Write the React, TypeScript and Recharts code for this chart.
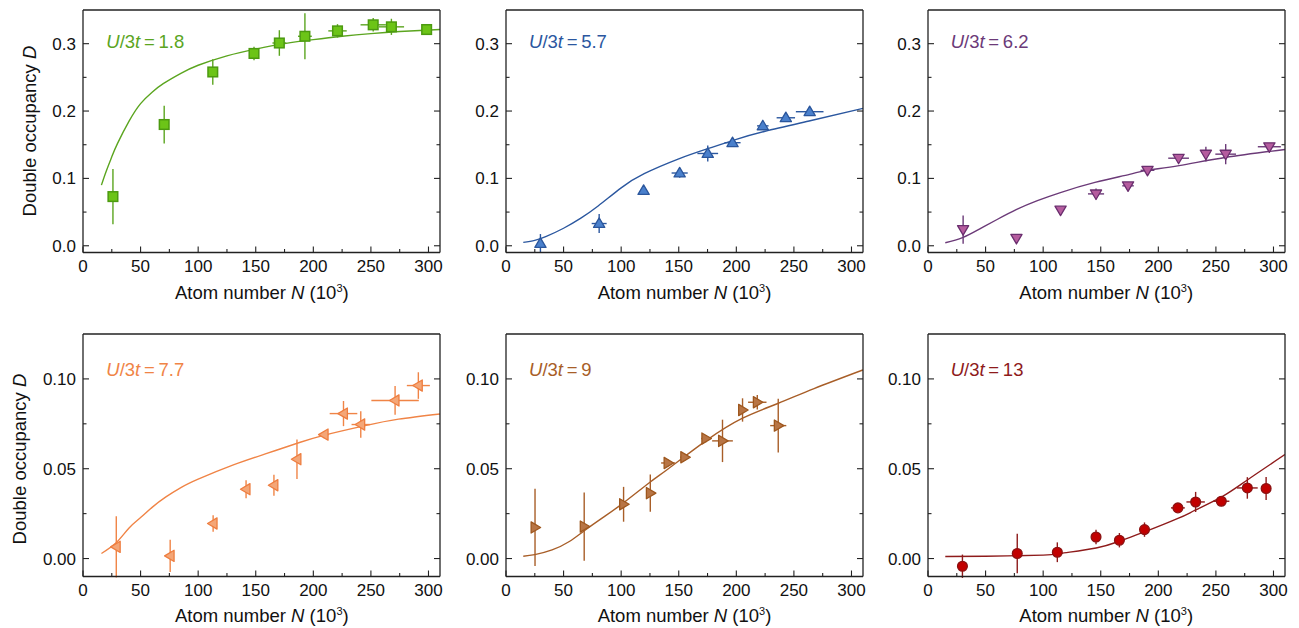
import React from 'react';
import { ComposedChart, Scatter, Line, XAxis, YAxis, ErrorBar } from 'recharts';

const FONT = '"Liberation Sans", Arial, Helvetica, sans-serif';

// x ticks (10^3 atoms)
const xTicks = [0, 25, 50, 75, 100, 125, 150, 175, 200, 225, 250, 275, 300];
const xMajor = [0, 50, 100, 150, 200, 250, 300];
// y ticks, top row / bottom row
const yTicksTop = [0, 0.05, 0.1, 0.15, 0.2, 0.25, 0.3];
const yMajorTop = [0, 0.1, 0.2, 0.3];
const yTicksBot = [0, 0.025, 0.05, 0.075, 0.1];
const yMajorBot = [0, 0.05, 0.1];

// U/3t = 1.8
const n18 = [26, 70.5, 112.7, 148.5, 170.5, 192.7, 221, 252, 267.8, 298.4];
const d18 = [0.073, 0.18, 0.258, 0.2855, 0.301, 0.311, 0.319, 0.328, 0.325, 0.321];
const dErr18 = [0.041, 0.028, 0.019, 0.01, 0.019, 0.034, 0.01, 0.01, 0.012, 0.008];
const nErr18 = [0, 0, 0, 0, 6, 6, 8, 11, 11, 0];
const fitN18 = [16, 20, 25, 30, 40, 50, 60, 70, 85, 100, 125, 150, 175, 200, 225, 250, 275, 310];
const fitD18 = [0.09, 0.11, 0.132, 0.152, 0.185, 0.211, 0.228, 0.241, 0.256, 0.268, 0.282, 0.292, 0.3, 0.306, 0.311, 0.315, 0.318, 0.321];

// U/3t = 5.7
const n57 = [29.9, 80.9, 119.5, 150.8, 175.2, 196.7, 223, 243, 263.7];
const d57 = [0.0034, 0.033, 0.082, 0.108, 0.137, 0.153, 0.178, 0.19, 0.199];
const dErr57 = [0.014, 0.014, 0.003, 0.007, 0.012, 0.004, 0.004, 0.006, 0.004];
const nErr57 = [0, 6.5, 0, 7, 9, 7, 5, 8, 12];
const fitN57 = [15, 25, 35, 50, 65, 80, 100, 120, 150, 175, 200, 225, 265, 310];
const fitD57 = [0.005, 0.008, 0.014, 0.026, 0.041, 0.059, 0.086, 0.107, 0.129, 0.144, 0.158, 0.17, 0.186, 0.204];

// U/3t = 6.2
const n62 = [30.5, 76.8, 115.1, 145.9, 173.7, 190.6, 217.6, 241.3, 258.5, 296.4];
const d62 = [0.024, 0.011, 0.053, 0.077, 0.089, 0.112, 0.13, 0.136, 0.136, 0.147];
const dErr62 = [0.021, 0.006, 0.004, 0.008, 0.004, 0.004, 0.004, 0.011, 0.015, 0.004];
const nErr62 = [0, 0, 0, 7, 5, 6, 9, 0, 9, 10];
const fitN62 = [15, 30, 45, 60, 77, 95, 115, 145, 175, 190, 218, 258, 310];
const fitD62 = [0.0044, 0.012, 0.025, 0.039, 0.054, 0.067, 0.079, 0.094, 0.106, 0.112, 0.119, 0.131, 0.143];

// U/3t = 7.7
const n77 = [28.9, 75.7, 113, 141.6, 165.8, 185.8, 209.4, 226.2, 241.2, 271, 291.2];
const d77 = [0.0065, 0.0015, 0.0195, 0.0386, 0.0408, 0.0553, 0.069, 0.0807, 0.0746, 0.088, 0.0963];
const dErr77 = [0.017, 0.009, 0.0046, 0.005, 0.0058, 0.011, 0.002, 0.007, 0.0074, 0.008, 0.0074];
const nErr77 = [0, 0, 3, 3, 3, 0, 4, 12, 8, 20.6, 10];
const fitN77 = [16, 29, 40, 50, 60, 72, 85, 100, 130, 159, 188, 209, 245, 274, 310];
const fitD77 = [0.0028, 0.0089, 0.017, 0.0228, 0.0285, 0.0343, 0.0395, 0.0442, 0.052, 0.0584, 0.0646, 0.0686, 0.074, 0.0776, 0.0805];

// U/3t = 9
const n9 = [25.2, 67.9, 102.1, 125.3, 140.7, 155.2, 173.5, 188, 205.4, 218.2, 236.4];
const d9 = [0.0173, 0.0178, 0.0302, 0.0364, 0.0532, 0.0564, 0.0668, 0.0655, 0.0827, 0.087, 0.074];
const dErr9 = [0.0215, 0.019, 0.0097, 0.0104, 0.002, 0.002, 0.002, 0.0118, 0.0065, 0.004, 0.015];
const nErr9 = [0, 0, 0, 0, 6, 4, 4, 9, 0, 8, 7];
const fitN9 = [15, 25, 40, 55, 68, 85, 102, 125, 141, 173.5, 205, 236, 267.5, 310];
const fitD9 = [0.0013, 0.0022, 0.0048, 0.0095, 0.0155, 0.0232, 0.031, 0.0425, 0.05, 0.0655, 0.078, 0.0863, 0.0946, 0.105];

// U/3t = 13
const n13 = [29.9, 77.5, 112.3, 145.9, 166.2, 188, 217, 232.4, 254.7, 277.3, 293.6];
const d13 = [-0.0043, 0.0028, 0.0035, 0.012, 0.0102, 0.0161, 0.0282, 0.0315, 0.0319, 0.0393, 0.039];
const dErr13 = [0.0065, 0.011, 0.0055, 0.004, 0.004, 0.004, 0.002, 0.0056, 0.002, 0.006, 0.0064];
const nErr13 = [0, 0, 0, 0, 0, 0, 6, 8, 7, 9, 0];
const fitN13 = [15, 50, 100, 115, 146, 166, 188, 217, 232, 255, 277, 310];
const fitD13 = [0.0011, 0.0013, 0.0019, 0.0028, 0.0059, 0.0096, 0.0148, 0.0223, 0.0269, 0.0343, 0.0436, 0.0579];

const PLOT_W = 357;
const PLOT_H = 242.5;
const ML = 80;
const MR = 8;
const MT = 6;
const MB = 28;
const colLeft = [83.3, 506, 927.7];
const rowTop = [9.8, 333.5];

const pts = (n: number[], d: number[], ne: number[], de: number[]) =>
  n.map((x, i) => ({ x, y: d[i], ex: ne[i], ey: de[i] }));
const fit = (n: number[], d: number[]) => n.map((x, i) => ({ x, y: d[i] }));

const panels = [
  { label: '1.8', col: 0, row: 0, line: '#5ba51f', fill: '#6cc417', edge: '#4c9a10', marker: 'square', data: pts(n18, d18, nErr18, dErr18), fit: fit(fitN18, fitD18) },
  { label: '5.7', col: 1, row: 0, line: '#2b579f', fill: '#4a80cc', edge: '#2b569c', marker: 'up', data: pts(n57, d57, nErr57, dErr57), fit: fit(fitN57, fitD57) },
  { label: '6.2', col: 2, row: 0, line: '#6b3a78', fill: '#b55c9e', edge: '#6b2f6f', marker: 'down', data: pts(n62, d62, nErr62, dErr62), fit: fit(fitN62, fitD62) },
  { label: '7.7', col: 0, row: 1, line: '#f08446', fill: '#f4a677', edge: '#ee7e40', marker: 'left', data: pts(n77, d77, nErr77, dErr77), fit: fit(fitN77, fitD77) },
  { label: '9', col: 1, row: 1, line: '#a85e28', fill: '#b87545', edge: '#9e571e', marker: 'right', data: pts(n9, d9, nErr9, dErr9), fit: fit(fitN9, fitD9) },
  { label: '13', col: 2, row: 1, line: '#8e1b1b', fill: '#c20000', edge: '#8b1212', marker: 'circle', data: pts(n13, d13, nErr13, dErr13), fit: fit(fitN13, fitD13) },
];

const isMajor = (v: number, majors: number[]) => majors.some((m) => Math.abs(m - v) < 1e-9);

// ticks point into the plot; only majors get a label
function makeTick(side: string, majors: number[], fmt?: (v: number) => string) {
  return (props: any) => {
    const { x, y, payload } = props;
    const v = payload.value;
    const major = isMajor(v, majors);
    const len = major ? 6 : 3.5;
    const st = { stroke: '#222', strokeWidth: 1.1 };
    if (side === 'bottom') {
      return (
        <g>
          <line x1={x} y1={y} x2={x} y2={y - len} {...st} />
          {major && fmt && (
            <text x={x} y={y + 19} textAnchor="middle" fontSize={17} fontFamily={FONT} fill="#111">{fmt(v)}</text>
          )}
        </g>
      );
    }
    if (side === 'top') return <line x1={x} y1={y} x2={x} y2={y + len} {...st} />;
    if (side === 'left') {
      return (
        <g>
          <line x1={x} y1={y} x2={x + len} y2={y} {...st} />
          {major && fmt && (
            <text x={x - 7} y={y + 6} textAnchor="end" fontSize={17} fontFamily={FONT} fill="#111">{fmt(v)}</text>
          )}
        </g>
      );
    }
    return <line x1={x} y1={y} x2={x - len} y2={y} {...st} />;
  };
}

function makeShape(kind: string, fill: string, edge: string) {
  return (props: any) => {
    const { cx, cy } = props;
    if (cx == null || cy == null) return <g />;
    const sw = 1.3;
    if (kind === 'square') return <rect x={cx - 4.8} y={cy - 4.8} width={9.6} height={9.6} fill={fill} stroke={edge} strokeWidth={1.5} />;
    if (kind === 'circle') return <circle cx={cx} cy={cy} r={4.9} fill={fill} stroke={edge} strokeWidth={sw} />;
    const a = 5.6;
    const b = 3.9;
    let p: number[][] = [];
    if (kind === 'up') p = [[cx, cy - a], [cx + a, cy + b], [cx - a, cy + b]];
    if (kind === 'down') p = [[cx, cy + a], [cx + a, cy - b], [cx - a, cy - b]];
    if (kind === 'left') p = [[cx - a, cy], [cx + b, cy - a], [cx + b, cy + a]];
    if (kind === 'right') p = [[cx + a, cy], [cx - b, cy - a], [cx - b, cy + a]];
    return <polygon points={p.map((q) => q.join(',')).join(' ')} fill={fill} stroke={edge} strokeWidth={sw} strokeLinejoin="round" />;
  };
}

const axisLine = { stroke: '#222', strokeWidth: 1.3 };

function Panel({ p }: { p: (typeof panels)[number] }) {
  const top = p.row === 0;
  const yDomain = top ? [-0.01, 0.35] : [-0.01, 0.125];
  const yTicks = top ? yTicksTop : yTicksBot;
  const yMajor = top ? yMajorTop : yMajorBot;
  const yFmt = top ? (v: number) => v.toFixed(1) : (v: number) => v.toFixed(2);
  const left = colLeft[p.col];
  const t = rowTop[p.row];
  return (
    <div style={{ position: 'absolute', left: left - ML, top: t - MT }}>
      <ComposedChart width={ML + PLOT_W + MR} height={MT + PLOT_H + MB} margin={{ top: MT - 1, right: MR - 1, bottom: MB - 1, left: ML - 1 }}>
        <XAxis xAxisId={0} dataKey="x" type="number" domain={[0, 310]} allowDataOverflow ticks={xTicks} interval={0}
          height={1} tickSize={0} tickMargin={0} tickLine={false} axisLine={axisLine}
          tick={makeTick('bottom', xMajor, (v) => String(v))} />
        <XAxis xAxisId="top" orientation="top" type="number" domain={[0, 310]} allowDataOverflow ticks={xTicks} interval={0}
          height={1} tickSize={0} tickMargin={0} tickLine={false} axisLine={axisLine}
          tick={makeTick('top', xMajor)} />
        <YAxis yAxisId={0} type="number" domain={yDomain} allowDataOverflow ticks={yTicks} interval={0}
          width={1} tickSize={0} tickMargin={0} tickLine={false} axisLine={axisLine}
          tick={makeTick('left', yMajor, yFmt)} />
        <YAxis yAxisId="right" orientation="right" type="number" domain={yDomain} allowDataOverflow ticks={yTicks} interval={0}
          width={1} tickSize={0} tickMargin={0} tickLine={false} axisLine={axisLine}
          tick={makeTick('right', yMajor)} />
        <Line data={p.fit} dataKey="y" type="natural" stroke={p.line} strokeWidth={1.4} dot={false} activeDot={false} isAnimationActive={false} />
        <Scatter data={p.data} dataKey="y" shape={makeShape(p.marker, p.fill, p.edge)} isAnimationActive={false}>
          <ErrorBar dataKey="ey" direction="y" width={0} stroke={p.line} strokeWidth={1.4} />
          <ErrorBar dataKey="ex" direction="x" width={0} stroke={p.line} strokeWidth={1.4} />
        </Scatter>
      </ComposedChart>
      <div style={{ position: 'absolute', left: ML + 23, top: (top ? 42 : 370) - t + MT - 11, fontFamily: FONT, fontSize: 18.5, lineHeight: '22px', color: p.line, whiteSpace: 'nowrap' }}>
        <i>U</i>/3<i>t</i>{'\u2009=\u2009'}{p.label}
      </div>
    </div>
  );
}

function XTitle({ col, row }: { col: number; row: number }) {
  const cy = row === 0 ? 293.3 : 616.3;
  return (
    <div style={{ position: 'absolute', left: colLeft[col], width: PLOT_W, top: cy - 12, textAlign: 'center', fontFamily: FONT, fontSize: 18.5, lineHeight: '24px', color: '#111', whiteSpace: 'nowrap' }}>
      Atom number <i>N</i> (10<sup style={{ fontSize: 11, verticalAlign: 'top', lineHeight: '14px' }}>3</sup>)
    </div>
  );
}

function YTitle({ row }: { row: number }) {
  const cx = row === 0 ? 30 : 20;
  const cy = row === 0 ? 131 : 459;
  return (
    <div style={{ position: 'absolute', left: cx - 100, top: cy - 12, width: 200, height: 24, textAlign: 'center', transform: 'rotate(-90deg)', fontFamily: FONT, fontSize: 18.5, lineHeight: '24px', color: '#111', whiteSpace: 'nowrap' }}>
      Double occupancy <i>D</i>
    </div>
  );
}

export default function App() {
  return (
    <div style={{ position: 'absolute', left: 0, top: 0, width: 1299, height: 628, background: '#fff', overflow: 'hidden' }}>
      {panels.map((p) => (
        <Panel key={p.label} p={p} />
      ))}
      {[0, 1].map((r) => [0, 1, 2].map((c) => <XTitle key={`x${r}${c}`} col={c} row={r} />))}
      <YTitle row={0} />
      <YTitle row={1} />
    </div>
  );
}
